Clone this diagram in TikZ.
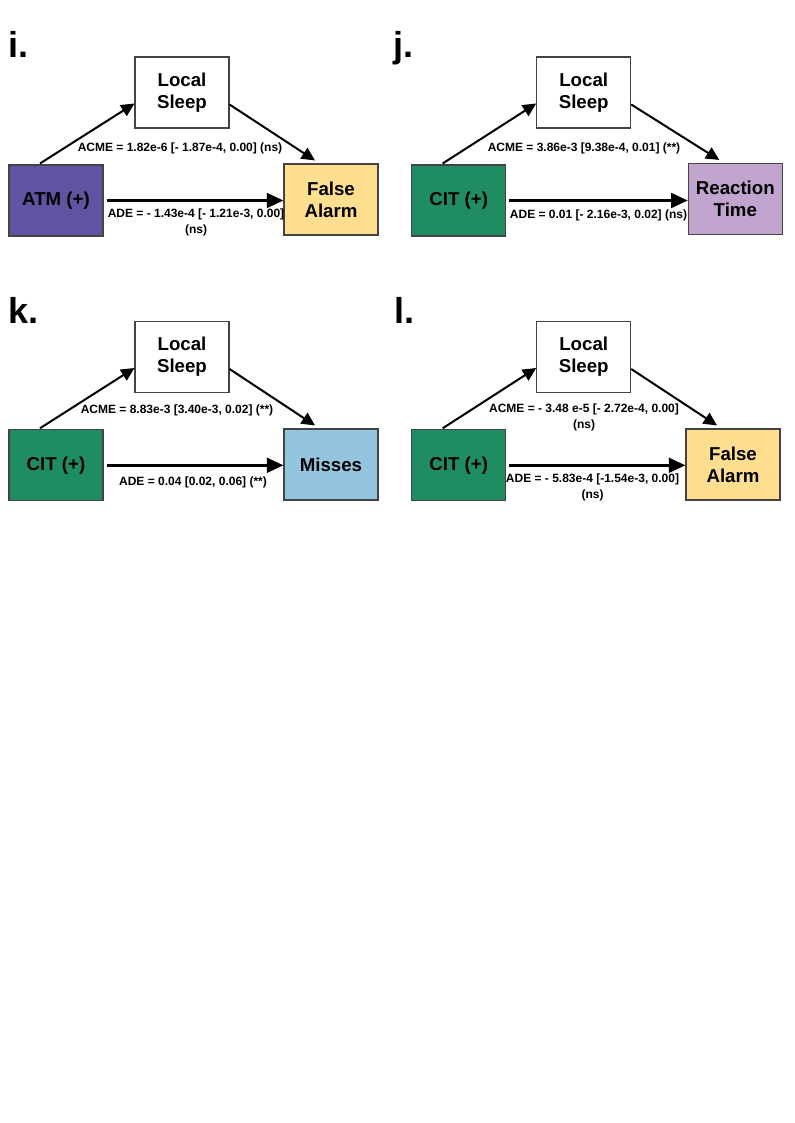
\documentclass[tikz,border=0pt]{standalone}
\usepackage{fontspec}
\setmainfont{Liberation Sans}
\usetikzlibrary{arrows.meta,calc}
\definecolor{bordergray}{HTML}{434343}
\definecolor{atmpurple}{HTML}{5E54A1}
\definecolor{citgreen}{HTML}{1F8C62}
\definecolor{fayellow}{HTML}{FFDF8F}
\definecolor{rtlilac}{HTML}{C2A5CF}
\definecolor{missblue}{HTML}{93C5DF}
\begin{document}
\begin{tikzpicture}[x=0.75pt,y=-0.75pt,
  box/.style={draw=bordergray, line width=0.8pt, minimum width=70.5pt,
    minimum height=53.25pt, inner sep=0pt, align=center,
    font=\fontsize{14}{16.5}\selectfont\bfseries},
  effect/.style={font=\fontsize{9}{12}\selectfont\bfseries, align=center, inner sep=0pt},
  panel/.style={font=\fontsize{27}{30}\selectfont\bfseries, inner sep=0pt, anchor=base west},
  medarrow/.style={line width=1.5pt, -{Triangle[length=10pt,width=9.5pt]}},
  directarrow/.style={line width=2.2pt, -{Triangle[length=12.5pt,width=11pt]}}]
\useasboundingbox (0,0) rectangle (794,1123);

% ---------- panel i ----------
\node[panel] (ti) at (8,58) {i.};
\node[box, fill=white] (lsi) at (182,92.5) {Local\\Sleep};
\node[box, fill=atmpurple] (xi) at (56,200.5) {ATM (+)};
\node[box, fill=fayellow] (yi) at (331,199.5) {False\\Alarm};
\draw[medarrow] ($(xi.north)+(-16,-1)$) -- ($(lsi.west)+(0,11)$);
\draw[medarrow] ($(lsi.east)+(0,12)$) -- ($(yi.north)+(-16,-3)$);
\draw[directarrow] ($(xi.east)+(3,0)$) -- (xi.east -| yi.west);
\node[effect] (ai) at (180,148.5) {ACME = 1.82e-6 [- 1.87e-4, 0.00] (ns)};
\node[effect] (di) at (196,222) {ADE = - 1.43e-4 [- 1.21e-3, 0.00]\\(ns)};

% ---------- panel j ----------
\node[panel] (tj) at (393,58) {j.};
\node[box, fill=white] (lsj) at (583.7,92.5) {Local\\Sleep};
\node[box, fill=citgreen] (xj) at (458.7,200.5) {CIT (+)};
\node[box, fill=rtlilac] (yj) at (735.3,199) {Reaction\\Time};
\draw[medarrow] ($(xj.north)+(-16,-1)$) -- ($(lsj.west)+(0,11)$);
\draw[medarrow] ($(lsj.east)+(0,12)$) -- ($(yj.north)+(-16,-3)$);
\draw[directarrow] ($(xj.east)+(3,0)$) -- (xj.east -| yj.west);
\node[effect] (aj) at (584,148.5) {ACME = 3.86e-3 [9.38e-4, 0.01] (**)};
\node[effect] (dj) at (598.5,215) {ADE = 0.01 [- 2.16e-3, 0.02] (ns)};

% ---------- panel k ----------
\node[panel] (tk) at (8,323) {k.};
\node[box, fill=white] (lsk) at (182,357) {Local\\Sleep};
\node[box, fill=citgreen] (xk) at (56,465.3) {CIT (+)};
\node[box, fill=missblue] (yk) at (331,464.5) {Misses};
\draw[medarrow] ($(xk.north)+(-16,-1)$) -- ($(lsk.west)+(0,11)$);
\draw[medarrow] ($(lsk.east)+(0,12)$) -- ($(yk.north)+(-16,-3)$);
\draw[directarrow] ($(xk.east)+(3,0)$) -- (xk.east -| yk.west);
\node[effect] (ak) at (177,410) {ACME = 8.83e-3 [3.40e-3, 0.02] (**)};
\node[effect] (dk) at (193,482) {ADE = 0.04 [0.02, 0.06] (**)};

% ---------- panel l ----------
\node[panel] (tl) at (394,323) {l.};
\node[box, fill=white] (lsl) at (583.7,357) {Local\\Sleep};
\node[box, fill=citgreen] (xl) at (458.7,465.3) {CIT (+)};
\node[box, fill=fayellow] (yl) at (733,464.5) {False\\Alarm};
\draw[medarrow] ($(xl.north)+(-16,-1)$) -- ($(lsl.west)+(0,11)$);
\draw[medarrow] ($(lsl.east)+(0,12)$) -- ($(yl.north)+(-16,-3)$);
\draw[directarrow] ($(xl.east)+(3,0)$) -- (xl.east -| yl.west);
\node[effect] (al) at (584,417.5) {ACME = - 3.48 e-5 [- 2.72e-4, 0.00]\\(ns)};
\node[effect] (dl) at (592.5,487.5) {ADE = - 5.83e-4 [-1.54e-3, 0.00]\\(ns)};
\end{tikzpicture}
\end{document}
